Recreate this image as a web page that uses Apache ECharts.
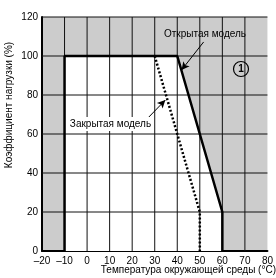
<!DOCTYPE html>
<html><head><meta charset="utf-8">
<script src="https://cdn.jsdelivr.net/npm/echarts@6/dist/echarts.min.js"></script>
<style>html,body{margin:0;padding:0;background:#fff}#c{width:276px;height:278px}</style>
</head><body><div id="c"></div>
<script>
const xTicks = [-20, -10, 0, 10, 20, 30, 40, 50, 60, 70, 80];
const yTicks = [0, 20, 40, 60, 80, 100, 120];
const openX = [-10, -10, 40, 60, 60];
const openY = [0, 100, 100, 20, 0];
const closedX = [30, 50, 50];
const closedY = [100, 20, 0];
const openArrowX = [51.7, 41.9];
const openArrowY = [107.2, 92.8];
const closedArrowX = [25.3, 34.7];
const closedArrowY = [66.2, 77.4];

const FONT = 'Liberation Sans, Arial, sans-serif';
const chart = echarts.init(document.getElementById('c'), null, {renderer: 'canvas'});
const pairs = (xs, ys) => xs.map((x, i) => [x, ys[i]]);

chart.setOption({
  animation: false,
  grid: {left: 42, top: 17, width: 235, height: 234, show: true, backgroundColor: '#cccccc', borderWidth: 0},
  xAxis: {
    type: 'value', min: -20, max: 80, interval: 10,
    axisLine: {show: true, onZero: false, lineStyle: {color: '#000', width: 2}},
    axisTick: {show: false},
    splitLine: {show: false},
    axisLabel: {color: '#000', fontSize: 10, fontFamily: FONT, margin: 5,
      formatter: v => (v < 0 ? '\u2013' + Math.abs(v) : String(v))}
  },
  yAxis: {
    type: 'value', min: 0, max: 120, interval: 20,
    axisLine: {show: true, onZero: false, lineStyle: {color: '#000', width: 2}},
    axisTick: {show: false},
    splitLine: {show: false},
    axisLabel: {color: '#000', fontSize: 10, fontFamily: FONT, margin: 4}
  },
  series: [
    {
      type: 'custom', z: 1, silent: true,
      data: [0],
      renderItem: (params, api) => ({
        type: 'polygon',
        shape: {points: pairs(openX, openY).map(p => api.coord(p))},
        style: {fill: '#ffffff'}
      })
    },
    {
      type: 'custom', z: 3, silent: true, data: [0],
      renderItem: (params, api) => {
        const ch = [];
        for (let i = 1; i < xTicks.length - 1; i++) {
          const a = api.coord([xTicks[i], 0]), b = api.coord([xTicks[i], 120]);
          ch.push({type: 'line', shape: {x1: a[0], y1: a[1], x2: b[0], y2: b[1]}, style: {stroke: '#111', lineWidth: 1}});
        }
        for (let j = 1; j < yTicks.length; j++) {
          const a = api.coord([-20, yTicks[j]]), b = api.coord([80, yTicks[j]]);
          ch.push({type: 'line', shape: {x1: a[0], y1: a[1], x2: b[0], y2: b[1]}, style: {stroke: '#111', lineWidth: 1}});
        }
        return {type: 'group', children: ch};
      }
    },
    {
      name: 'Открытая модель', type: 'line', z: 5, silent: true, showSymbol: false,
      data: pairs(openX, openY),
      lineStyle: {color: '#000', width: 2.5}
    },
    {
      name: 'Закрытая модель', type: 'line', z: 5, silent: true, showSymbol: false,
      data: pairs(closedX, closedY),
      lineStyle: {color: '#000', width: 2.5, type: [2, 2]}
    },
    {
      type: 'line', z: 6, silent: true, showSymbol: false, data: [],
      markLine: {
        silent: true, symbol: ['none', 'arrow'], symbolSize: [6, 8],
        lineStyle: {color: '#000', width: 1, type: 'solid'},
        label: {show: false},
        data: [
          [{coord: [openArrowX[0], openArrowY[0]]}, {coord: [openArrowX[1], openArrowY[1]]}],
          [{coord: [closedArrowX[0], closedArrowY[0]]}, {coord: [closedArrowX[1], closedArrowY[1]]}]
        ]
      }
    }
  ],
  graphic: [
    {type: 'text', x: 205, y: 34, z: 100, style: {text: 'Открытая модель', fontSize: 10, fontFamily: FONT, fill: '#000', align: 'center', verticalAlign: 'middle'}},
    {type: 'rect', x: 68, y: 117, z: 99, shape: {width: 85, height: 14}, style: {fill: '#fff'}},
    {type: 'text', x: 110.5, y: 124, z: 100, style: {text: 'Закрытая модель', fontSize: 10, fontFamily: FONT, fill: '#000', align: 'center', verticalAlign: 'middle'}},
    {type: 'circle', x: 241, y: 69, z: 100, shape: {r: 7.5}, style: {fill: 'none', stroke: '#000', lineWidth: 1.2}},
    {type: 'text', x: 241, y: 69.5, z: 100, style: {text: '1', fontSize: 10, fontWeight: 'bold', fontFamily: FONT, fill: '#000', align: 'center', verticalAlign: 'middle'}},
    {type: 'text', x: 9, y: 105, rotation: Math.PI / 2, z: 100, style: {text: 'Коэффициент нагрузки (%)', fontSize: 10, fontFamily: FONT, fill: '#000', align: 'center', verticalAlign: 'middle'}},
    {type: 'text', x: 276, y: 270, z: 100, style: {text: 'Температура окружающей среды (°C)', fontSize: 10, fontFamily: FONT, fill: '#000', align: 'right', verticalAlign: 'middle'}}
  ]
});
</script></body></html>
